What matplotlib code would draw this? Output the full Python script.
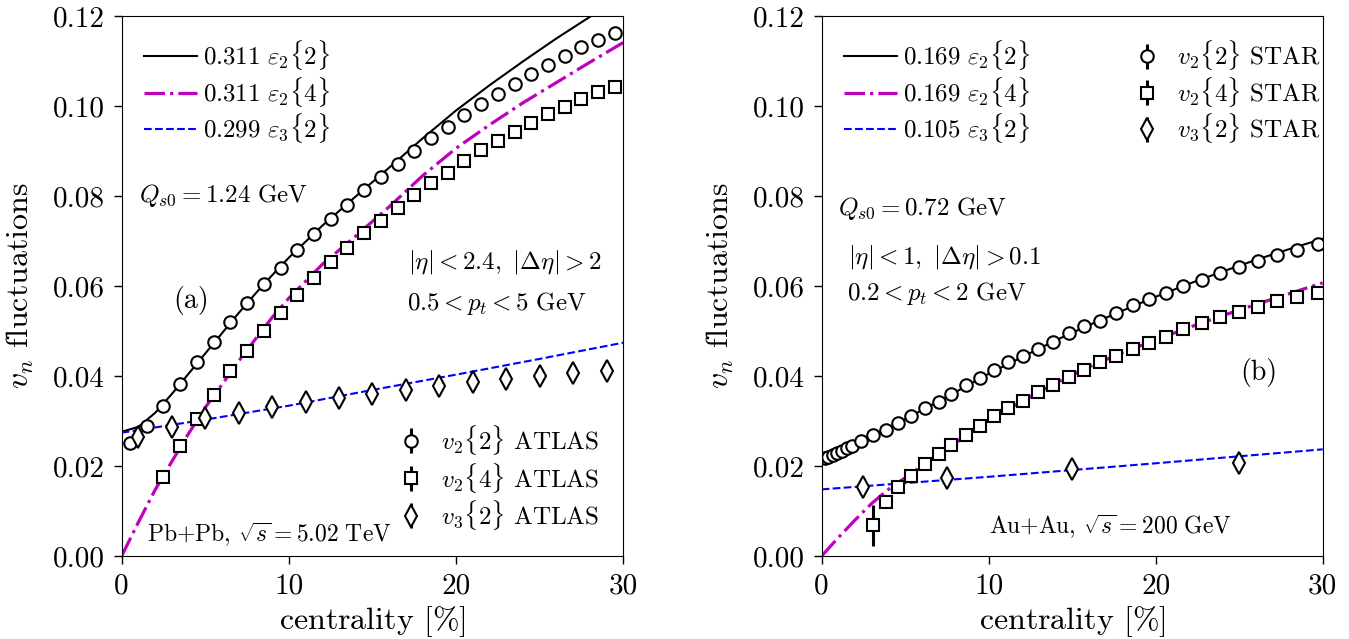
"""Flow fluctuations v_n vs centrality: Pb+Pb (ATLAS) and Au+Au (STAR)."""

import matplotlib
matplotlib.use("Agg")
import matplotlib.pyplot as plt
from matplotlib.ticker import FormatStrFormatter, MultipleLocator

plt.rcParams["font.family"] = "serif"
plt.rcParams["font.serif"] = ["cmr10"]
plt.rcParams["mathtext.fontset"] = "cm"
plt.rcParams["axes.formatter.use_mathtext"] = True
plt.rcParams["axes.unicode_minus"] = False

# ---- panel (a): Pb+Pb, ATLAS ----
atlas_v22_x = [0.5 + i for i in range(30)]
atlas_v22_y = [0.0250, 0.0289, 0.0333, 0.0382, 0.0431, 0.0475, 0.0519, 0.0563,
               0.0604, 0.0641, 0.0680, 0.0715, 0.0749, 0.0781, 0.0813, 0.0843,
               0.0871, 0.0900, 0.0928, 0.0953, 0.0979, 0.1004, 0.1026, 0.1048,
               0.1071, 0.1091, 0.1111, 0.1130, 0.1147, 0.1163]
atlas_v24_x = [2.5 + i for i in range(28)]
atlas_v24_y = [0.0176, 0.0245, 0.0304, 0.0358, 0.0410, 0.0456, 0.0501, 0.0541,
               0.0580, 0.0617, 0.0653, 0.0684, 0.0717, 0.0744, 0.0774, 0.0802,
               0.0828, 0.0852, 0.0878, 0.0902, 0.0922, 0.0942, 0.0962, 0.0982,
               0.0998, 0.1016, 0.1030, 0.1043]
atlas_v32_x = [1 + 2 * i for i in range(15)]
atlas_v32_y = [0.0264, 0.0287, 0.0306, 0.0318, 0.0332, 0.0343, 0.0350, 0.0359,
               0.0369, 0.0378, 0.0386, 0.0393, 0.0400, 0.0406, 0.0411]

curve_a_x = [0, 1, 2, 3, 4, 5, 6, 7, 8, 9, 10, 12, 14, 16, 18, 20, 22, 24, 26, 28, 30]
eps22_a = [0.0276, 0.0287, 0.0318, 0.0360, 0.0405, 0.0450, 0.0495, 0.0540, 0.0583,
           0.0624, 0.0663, 0.0734, 0.0799, 0.0863, 0.0928, 0.0990, 0.1046, 0.1099,
           0.1150, 0.1198, 0.1244]
eps24_a = [0.0, 0.0075, 0.0147, 0.0210, 0.0272, 0.0330, 0.0381, 0.0433, 0.0482,
           0.0530, 0.0573, 0.0648, 0.0711, 0.0776, 0.0845, 0.0906, 0.0958, 0.1007,
           0.1052, 0.1097, 0.1141]
eps32_a_x = [0, 5, 10, 15, 20, 25, 30]
eps32_a = [0.0274, 0.0303, 0.0334, 0.0369, 0.0403, 0.0438, 0.0474]

# ---- panel (b): Au+Au, STAR ----
star_v22_x = [0.2, 0.4, 0.65, 0.9, 1.2, 1.5, 1.8, 2.37, 3.07, 3.87, 4.57, 5.37,
              6.17, 7.0, 7.76, 8.66, 9.46, 10.32, 11.17, 12.07, 12.97, 13.83,
              14.81, 15.71, 16.66, 17.62, 18.62, 19.62, 20.62, 21.65, 22.75,
              23.85, 24.99, 26.11, 27.25, 28.44, 29.74]
star_v22_y = [0.0218, 0.0221, 0.0225, 0.0229, 0.0234, 0.0239, 0.0244, 0.0256,
              0.0269, 0.0281, 0.0296, 0.0312, 0.0328, 0.0343, 0.0360, 0.0380,
              0.0395, 0.0413, 0.0430, 0.0444, 0.0459, 0.0476, 0.0495, 0.0510,
              0.0523, 0.0539, 0.0558, 0.0570, 0.0585, 0.0600, 0.0613, 0.0628,
              0.0643, 0.0656, 0.0669, 0.0680, 0.0693]
star_v24_x = [3.07, 3.87, 4.57, 5.37, 6.17, 7.0, 7.76, 8.66, 9.46, 10.32, 11.17,
              12.07, 12.97, 13.83, 14.81, 15.71, 16.66, 17.62, 18.62, 19.62,
              20.62, 21.65, 22.75, 23.85, 24.99, 26.11, 27.25, 28.44, 29.74]
star_v24_y = [0.0068, 0.0119, 0.0154, 0.0178, 0.0204, 0.0227, 0.0247, 0.0269,
              0.0289, 0.0310, 0.0328, 0.0344, 0.0365, 0.0380, 0.0397, 0.0413,
              0.0430, 0.0444, 0.0459, 0.0474, 0.0487, 0.0504, 0.0517, 0.0530,
              0.0543, 0.0554, 0.0567, 0.0576, 0.0585]
star_v24_err = [0.0045] + [0.0004] * 28
star_v32_x = [2.5, 7.5, 15, 25]
star_v32_y = [0.0154, 0.0173, 0.0193, 0.0207]

curve_b_x = [0, 1, 2, 3, 4, 5, 6, 7, 8, 10, 12, 14, 16, 18, 20, 22, 24, 26, 28, 30]
eps22_b = [0.0215, 0.0231, 0.0248, 0.0266, 0.0284, 0.0304, 0.0324, 0.0344, 0.0364,
           0.0405, 0.0442, 0.0479, 0.0513, 0.0545, 0.0576, 0.0605, 0.0632, 0.0658,
           0.0682, 0.0705]
eps24_b = [0.0, 0.0041, 0.0080, 0.0117, 0.0148, 0.0174, 0.0200, 0.0226, 0.0251,
           0.0302, 0.0344, 0.0384, 0.0420, 0.0452, 0.0480, 0.0508, 0.0534, 0.0559,
           0.0583, 0.0607]
eps32_b_x = [0, 10, 20, 30]
eps32_b = [0.0148, 0.0176, 0.0206, 0.0237]

TICK_FS = 21
LABEL_FS = 23
TEXT_FS = 18

fig = plt.figure(figsize=(13.49, 6.39), dpi=100)
ax_a = fig.add_axes([0.0902, 0.1299, 0.3718, 0.8451])
ax_b = fig.add_axes([0.6091, 0.1299, 0.3714, 0.8451])

marker_kw = dict(ls="none", mfc="white", mec="black", ecolor="black",
                 mew=1.5, elinewidth=2.2, capsize=0)


def draw_panel(ax, cx, e22, e24, e3x, e32, labels, data, exp):
    l1, = ax.plot(cx, e22, color="black", lw=1.5, label=labels[0])
    l2, = ax.plot(cx, e24, color="m", lw=2.3, ls="-.", label=labels[1])
    l3, = ax.plot(e3x, e32, color="b", lw=1.5, ls="--", label=labels[2])
    handles = []
    for (x, y, err, mk, ms), name in zip(data, [r"$v_2\{2\}$", r"$v_2\{4\}$", r"$v_3\{2\}$"]):
        h = ax.errorbar(x, y, yerr=err, marker=mk, ms=ms,
                        label=name + " " + exp, **marker_kw)
        handles.append(h)

    ax.set_xlim(0, 30)
    ax.set_ylim(0, 0.12)
    ax.xaxis.set_major_locator(MultipleLocator(10))
    ax.yaxis.set_major_locator(MultipleLocator(0.02))
    ax.yaxis.set_major_formatter(FormatStrFormatter("%.2f"))
    ax.xaxis.set_major_formatter(FormatStrFormatter("%d"))
    ax.tick_params(direction="out", length=6, width=1, labelsize=TICK_FS, pad=6,
                   top=False, right=False)
    ax.set_xlabel(r"centrality $[\%]$", fontsize=LABEL_FS, labelpad=4)
    ax.set_ylabel(r"$v_n$ fluctuations", fontsize=LABEL_FS, labelpad=12)
    return [l1, l2, l3], handles


lines_a, pts_a = draw_panel(
    ax_a, curve_a_x, eps22_a, eps24_a, eps32_a_x, eps32_a,
    [r"$0.311\ \varepsilon_2\{2\}$", r"$0.311\ \varepsilon_2\{4\}$",
     r"$0.299\ \varepsilon_3\{2\}$"],
    [(atlas_v22_x, atlas_v22_y, [0.0003] * 30, "o", 9),
     (atlas_v24_x, atlas_v24_y, [0.0003] * 28, "s", 8),
     (atlas_v32_x, atlas_v32_y, [0.0003] * 15, "d", 11)],
    "ATLAS")

lines_b, pts_b = draw_panel(
    ax_b, curve_b_x, eps22_b, eps24_b, eps32_b_x, eps32_b,
    [r"$0.169\ \varepsilon_2\{2\}$", r"$0.169\ \varepsilon_2\{4\}$",
     r"$0.105\ \varepsilon_3\{2\}$"],
    [(star_v22_x, star_v22_y, [0.0003] * 37, "o", 9),
     (star_v24_x, star_v24_y, star_v24_err, "s", 8),
     (star_v32_x, star_v32_y, [0.0003] * 4, "d", 11)],
    "STAR")

leg_kw = dict(frameon=False, fontsize=TEXT_FS, handlelength=2.1,
              handletextpad=0.25, labelspacing=0.1, borderaxespad=0.5)

leg = ax_a.legend(handles=lines_a, loc="upper left", **leg_kw)
ax_a.add_artist(leg)
ax_a.legend(handles=pts_a, loc="lower right", frameon=False, fontsize=TEXT_FS,
            handlelength=1.0, handletextpad=0.7, labelspacing=0.14,
            borderaxespad=0.55)

leg = ax_b.legend(handles=lines_b, loc="upper left", **leg_kw)
ax_b.add_artist(leg)
ax_b.legend(handles=pts_b, loc="upper left", bbox_to_anchor=(0.58, 1.0),
            frameon=False, fontsize=TEXT_FS, handlelength=1.0,
            handletextpad=0.7, labelspacing=0.1, borderaxespad=0.5)

# annotations panel (a)
ax_a.text(0.035, 0.655, r"$Q_{s0}=1.24\ \mathrm{GeV}$", transform=ax_a.transAxes,
          fontsize=TEXT_FS, va="baseline")
ax_a.text(0.571, 0.533, r"$|\eta|<2.4,\ |\Delta\eta|>2$", transform=ax_a.transAxes,
          fontsize=TEXT_FS, va="baseline")
ax_a.text(0.569, 0.456, r"$0.5<p_t<5\ \mathrm{GeV}$", transform=ax_a.transAxes,
          fontsize=TEXT_FS, va="baseline")
ax_a.text(0.103, 0.459, "(a)", transform=ax_a.transAxes, fontsize=20,
          va="baseline")
ax_a.text(0.05, 0.0265, r"Pb+Pb, $\sqrt{s}=5.02\ \mathrm{TeV}$",
          transform=ax_a.transAxes, fontsize=TEXT_FS - 1, va="baseline")

# annotations panel (b)
ax_b.text(0.033, 0.6315, r"$Q_{s0}=0.72\ \mathrm{GeV}$", transform=ax_b.transAxes,
          fontsize=TEXT_FS, va="baseline")
ax_b.text(0.053, 0.542, r"$|\eta|<1,\ |\Delta\eta|>0.1$", transform=ax_b.transAxes,
          fontsize=TEXT_FS, va="baseline")
ax_b.text(0.05, 0.474, r"$0.2<p_t<2\ \mathrm{GeV}$", transform=ax_b.transAxes,
          fontsize=TEXT_FS, va="baseline")
ax_b.text(0.836, 0.326, "(b)", transform=ax_b.transAxes, fontsize=20,
          va="baseline")
ax_b.text(0.3345, 0.042, r"Au+Au, $\sqrt{s}=200\ \mathrm{GeV}$",
          transform=ax_b.transAxes, fontsize=TEXT_FS - 1, va="baseline")

fig.savefig("out.png", dpi=100)
